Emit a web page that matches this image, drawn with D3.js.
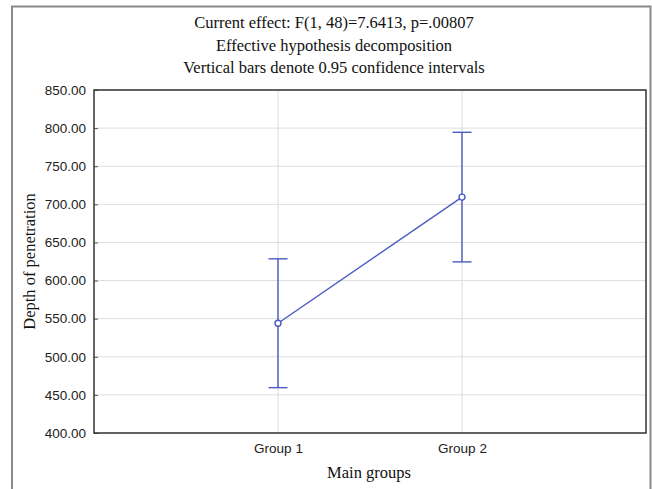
<!DOCTYPE html>
<html>
<head>
<meta charset="utf-8">
<script src="https://cdn.jsdelivr.net/npm/d3@7"></script>
<style>
  body { margin: 0; background: #fff; }
  svg { display: block; }
</style>
</head>
<body>
<div id="chartArea"></div>
<script>
// data
var groups = ['Group 1', 'Group 2'];
var means = [544, 709.5];
var lower = [459.5, 624.5];
var upper = [628.5, 794.5];
var yTicks = [400, 450, 500, 550, 600, 650, 700, 750, 800, 850];
var titles = [
  'Current effect: F(1, 48)=7.6413, p=.00807',
  'Effective hypothesis decomposition',
  'Vertical bars denote 0.95 confidence intervals'
];

var width = 652, height = 489;
var margin = { left: 94, right: 6, top: 90, bottom: 56 };
var blue = '#4b5bc2';

var svg = d3.select('#chartArea').append('svg')
  .attr('width', width)
  .attr('height', height);

// outer frame
svg.append('path')
  .attr('d', 'M12,' + height + ' V6.5 H650.5 V' + height)
  .attr('fill', 'none')
  .attr('stroke', '#8a8a8a')
  .attr('stroke-width', 2);

// title lines
svg.selectAll('text.title')
  .data(titles)
  .enter()
  .append('text')
  .attr('class', 'title')
  .attr('x', 334)
  .attr('y', function (d, i) { return 28 + i * 22.5; })
  .attr('text-anchor', 'middle')
  .style('font-family', '"Liberation Serif", serif')
  .style('font-size', '16.5px')
  .attr('fill', '#111')
  .text(function (d) { return d; });

var x = d3.scalePoint()
  .domain(['', groups[0], groups[1], ' '])
  .range([margin.left, width - margin.right]);

var y = d3.scaleLinear()
  .domain([400, 850])
  .range([height - margin.bottom, margin.top]);

// grid
var g = svg.append('g');
g.selectAll('line.hgrid')
  .data(yTicks)
  .enter()
  .append('line')
  .attr('x1', margin.left)
  .attr('x2', width - margin.right)
  .attr('y1', function (d) { return y(d); })
  .attr('y2', function (d) { return y(d); })
  .attr('stroke', '#dedede');

g.selectAll('line.vgrid')
  .data(groups)
  .enter()
  .append('line')
  .attr('x1', function (d) { return x(d); })
  .attr('x2', function (d) { return x(d); })
  .attr('y1', margin.top)
  .attr('y2', height - margin.bottom)
  .attr('stroke', '#dedede');

// y axis
var yAxis = svg.append('g')
  .attr('transform', 'translate(' + margin.left + ',0)')
  .call(d3.axisLeft(y).tickValues(yTicks).tickSize(-4).tickPadding(8)
    .tickFormat(d3.format('.2f')));
yAxis.select('.domain').remove();
yAxis.selectAll('line').attr('stroke', '#555');
yAxis.selectAll('text')
  .style('font-family', '"Liberation Sans", Arial, sans-serif')
  .style('font-size', '13.5px')
  .attr('fill', '#222');

// x axis
var xAxis = svg.append('g')
  .attr('transform', 'translate(0,' + (height - margin.bottom) + ')')
  .call(d3.axisBottom(x).tickValues(groups).tickSize(0).tickPadding(10));
xAxis.select('.domain').remove();
xAxis.selectAll('text')
  .style('font-family', '"Liberation Sans", Arial, sans-serif')
  .style('font-size', '13.5px')
  .attr('fill', '#222');

// plot border
svg.append('rect')
  .attr('x', margin.left)
  .attr('y', margin.top)
  .attr('width', width - margin.right - margin.left)
  .attr('height', height - margin.bottom - margin.top)
  .attr('fill', 'none')
  .attr('stroke', '#333')
  .attr('stroke-width', 1.5);

// axis titles
svg.append('text')
  .attr('x', 369)
  .attr('y', 478)
  .attr('text-anchor', 'middle')
  .style('font-family', '"Liberation Serif", serif')
  .style('font-size', '16.5px')
  .attr('fill', '#111')
  .text('Main groups');

svg.append('text')
  .attr('transform', 'translate(35,' + ((margin.top + height - margin.bottom) / 2) + ') rotate(-90)')
  .attr('text-anchor', 'middle')
  .style('font-family', '"Liberation Serif", serif')
  .style('font-size', '16.5px')
  .attr('fill', '#111')
  .text('Depth of penetration');

// error bars
var cap = 9.5;
var bars = svg.append('g')
  .attr('stroke', blue)
  .attr('stroke-width', 1.4);
groups.forEach(function (grp, i) {
  bars.append('line')
    .attr('x1', x(grp)).attr('x2', x(grp))
    .attr('y1', y(lower[i])).attr('y2', y(upper[i]));
  bars.append('line')
    .attr('x1', x(grp) - cap).attr('x2', x(grp) + cap)
    .attr('y1', y(lower[i])).attr('y2', y(lower[i]));
  bars.append('line')
    .attr('x1', x(grp) - cap).attr('x2', x(grp) + cap)
    .attr('y1', y(upper[i])).attr('y2', y(upper[i]));
});

// mean line
var line = d3.line()
  .x(function (d, i) { return x(groups[i]); })
  .y(function (d) { return y(d); });

svg.append('path')
  .datum(means)
  .attr('d', line)
  .attr('fill', 'none')
  .attr('stroke', blue)
  .attr('stroke-width', 1.4);

svg.selectAll('circle')
  .data(means)
  .enter()
  .append('circle')
  .attr('cx', function (d, i) { return x(groups[i]); })
  .attr('cy', function (d) { return y(d); })
  .attr('r', 3)
  .attr('fill', '#fff')
  .attr('stroke', blue)
  .attr('stroke-width', 1.4);
</script>
</body>
</html>
